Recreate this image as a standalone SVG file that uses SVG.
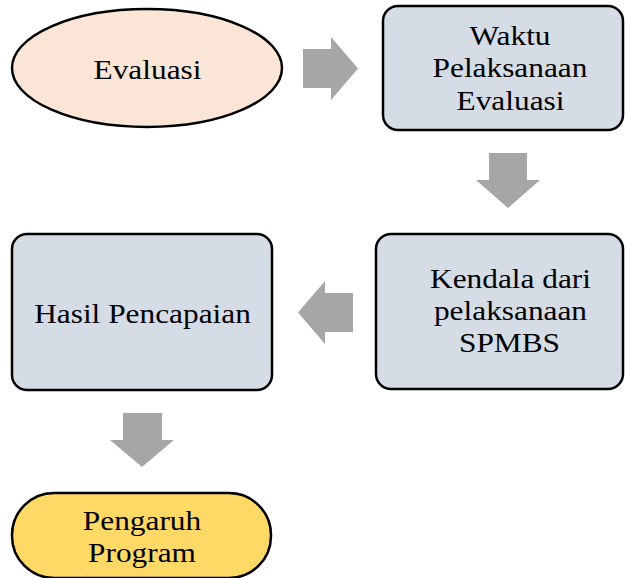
<svg xmlns="http://www.w3.org/2000/svg" width="625" height="578" viewBox="0 0 625 578">
<style>
.sh{stroke:#000;stroke-width:2.5}
.box{fill:#d6dce5}
text{font-family:'Liberation Serif','Times New Roman',Times,serif;font-size:27.5px;fill:#000;text-anchor:middle}
.arr{fill:#a6a6a6}
</style>
<rect width="625" height="578" fill="#fff"/>
<g id="connectors">
<polygon class="arr" points="303,49 331,49 331,37 358,68.5 331,100 331,88 303,88"/>
<polygon class="arr" points="489,153 527,153 527,180 540,180 508,208 476,180 489,180"/>
<polygon class="arr" points="353,293 325,293 325,281 298,312.5 325,344 325,332 353,332"/>
<polygon class="arr" points="123,413 162,413 162,440 174,440 142,467 110,440 123,440"/>
</g>
<g id="evaluasi">
<ellipse class="sh" cx="147" cy="68" rx="135" ry="59" fill="#fbe5d6"/>
<text transform="translate(147.5,79) scale(1.14,1)" font-family="Liberation Serif, serif">Evaluasi</text>
</g>
<g id="waktu">
<rect class="sh box" x="383" y="6" width="240" height="124" rx="15"/>
<text transform="translate(510,45) scale(1.14,1)" font-family="Liberation Serif, serif">Waktu</text>
<text transform="translate(510,77) scale(1.14,1)" font-family="Liberation Serif, serif">Pelaksanaan</text>
<text transform="translate(510.5,110) scale(1.14,1)" font-family="Liberation Serif, serif">Evaluasi</text>
</g>
<g id="kendala">
<rect class="sh box" x="376" y="234" width="247" height="155" rx="15"/>
<text transform="translate(510.5,288) scale(1.14,1)" font-family="Liberation Serif, serif">Kendala dari</text>
<text transform="translate(510.5,320) scale(1.14,1)" font-family="Liberation Serif, serif">pelaksanaan</text>
<text transform="translate(509.5,352) scale(1.14,1)" font-family="Liberation Serif, serif">SPMBS</text>
</g>
<g id="hasil">
<rect class="sh box" x="12" y="234" width="260" height="156" rx="15"/>
<text transform="translate(142.5,323) scale(1.14,1)" font-family="Liberation Serif, serif">Hasil Pencapaian</text>
</g>
<g id="pengaruh">
<rect class="sh" x="12" y="493" width="259" height="85" rx="42" fill="#ffd966"/>
<text transform="translate(142,530) scale(1.14,1)" font-family="Liberation Serif, serif">Pengaruh</text>
<text transform="translate(142,562) scale(1.14,1)" font-family="Liberation Serif, serif">Program</text>
</g>
</svg>
